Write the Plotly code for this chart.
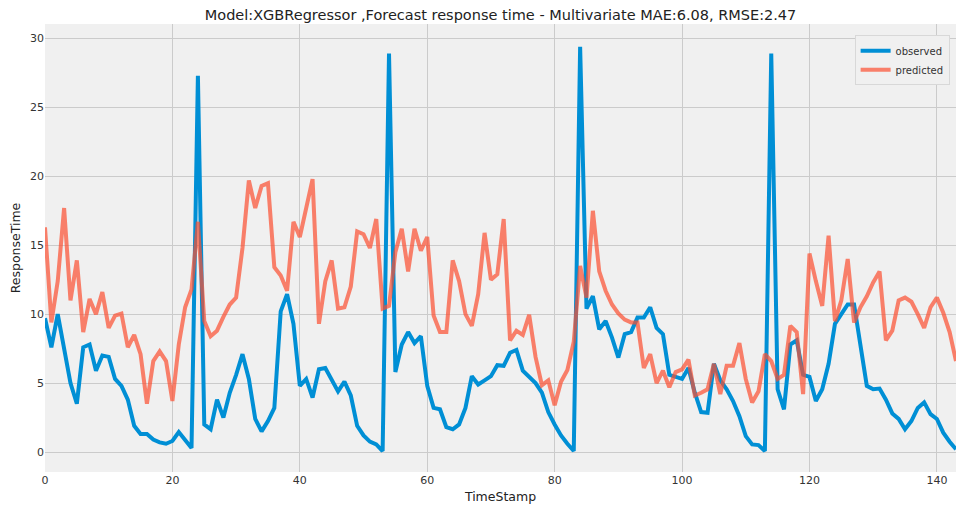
import plotly.graph_objects as go

timestamps = list(range(144))

observed = [
    9.7, 7.6, 10.0, 7.5, 5.0, 3.5, 7.6, 7.8, 5.9, 7.0,
    6.9, 5.3, 4.8, 3.8, 1.9, 1.3, 1.3, 0.9, 0.7, 0.6,
    0.8, 1.45, 0.9, 0.3, 27.3, 2.0, 1.65, 3.8, 2.5, 4.3,
    5.6, 7.1, 5.3, 2.4, 1.5, 2.25, 3.2, 10.2, 11.45, 9.3,
    4.8, 5.3, 3.95, 6.0, 6.1, 5.3, 4.4, 5.1, 4.1, 1.9,
    1.2, 0.75, 0.55, 0.07, 28.9, 5.8, 7.8, 8.7, 7.9, 8.4,
    4.8, 3.2, 3.1, 1.8, 1.65, 2.0, 3.2, 5.5, 4.9, 5.2,
    5.5, 6.3, 6.25, 7.2, 7.4, 5.9, 5.4, 5.0, 4.3, 2.9,
    2.0, 1.2, 0.6, 0.07, 29.4, 10.4, 11.3, 8.9, 9.5, 8.3,
    6.85, 8.55, 8.7, 9.75, 9.75, 10.5, 9.0, 8.55, 5.6, 5.45,
    5.3, 6.1, 4.3, 2.9, 2.85, 6.4, 5.2, 4.55, 3.7, 2.6,
    1.15, 0.55, 0.5, 0.07, 28.9, 4.55, 3.1, 7.8, 8.1, 5.6,
    5.45, 3.7, 4.55, 6.4, 9.3, 10.0, 10.7, 10.7, 7.7, 4.8,
    4.55, 4.6, 3.8, 2.8, 2.4, 1.65, 2.25, 3.2, 3.6, 2.75,
    2.4, 1.4, 0.75, 0.2,
]

predicted = [
    16.3, 9.4, 12.4, 17.7, 11.0, 13.9, 8.7, 11.1, 10.0, 11.6,
    9.0, 9.9, 10.05, 7.6, 8.5, 7.1, 3.5, 6.6, 7.3, 6.6,
    3.7, 7.8, 10.5, 11.8, 16.7, 9.5, 8.4, 8.8, 9.8, 10.7,
    11.2, 14.8, 19.7, 17.7, 19.3, 19.5, 13.4, 12.8, 11.7, 16.7,
    15.6, 17.7, 19.8, 9.3, 12.4, 13.9, 10.4, 10.5, 12.0, 16.0,
    15.8, 14.8, 16.9, 10.4, 10.6, 14.5, 16.2, 13.1, 16.2, 14.6,
    15.6, 9.9, 8.7, 8.7, 13.9, 12.4, 10.0, 9.15, 11.45, 15.9,
    12.5, 12.9, 16.9, 8.1, 8.8, 8.5, 9.95, 6.9, 4.85, 5.2,
    3.4, 5.1, 5.95, 8.0, 13.5, 11.2, 17.5, 13.1, 11.7, 10.7,
    10.05, 9.6, 9.4, 9.4, 6.1, 7.1, 5.0, 5.9, 4.7, 5.8,
    6.0, 6.7, 4.1, 4.3, 4.55, 6.4, 4.2, 6.25, 6.25, 7.9,
    5.3, 3.6, 4.4, 7.1, 6.6, 5.3, 5.6, 9.15, 8.7, 4.2,
    14.4, 12.4, 10.6, 15.7, 9.5, 11.0, 14.0, 9.4, 10.5, 11.3,
    12.3, 13.1, 8.1, 8.8, 11.0, 11.2, 10.9, 10.0, 9.0, 10.5,
    11.2, 10.1, 8.7, 6.6,
]

series_names = ["observed", "predicted"]
title_text = "Model:XGBRegressor ,Forecast response time - Multivariate MAE:6.08, RMSE:2.47"
x_ticks = [0, 20, 40, 60, 80, 100, 120, 140]
y_ticks = [0, 5, 10, 15, 20, 25, 30]

fig = go.Figure()
fig.add_trace(go.Scatter(
    x=timestamps, y=observed, mode="lines", name=series_names[0],
    line=dict(color="#008fd5", width=4),
))
fig.add_trace(go.Scatter(
    x=timestamps, y=predicted, mode="lines", name=series_names[1],
    line=dict(color="#fc4f30", width=4), opacity=0.7,
))

font_family = "DejaVu Sans"
fig.update_layout(
    width=958, height=510,
    margin=dict(l=45, r=2, t=24, b=38),
    paper_bgcolor="white",
    plot_bgcolor="#f0f0f0",
    font=dict(family=font_family, color="#333333", size=11),
    title=dict(text=title_text, x=0.5225, xanchor="center", y=0.971, yanchor="middle",
               font=dict(family=font_family, size=14.5, color="#222222")),
    showlegend=True,
    legend=dict(
        x=0.993, xanchor="right", y=0.975, yanchor="top",
        bgcolor="#f0f0f0", bordercolor="#d8d8d8", borderwidth=1,
        font=dict(family=font_family, size=10, color="#333333"),
        tracegroupgap=0, itemwidth=30,
    ),
    xaxis=dict(
        range=[0, 143], tickvals=x_ticks, ticktext=[str(v) for v in x_ticks],
        showgrid=True, gridcolor="#cbcbcb", gridwidth=1,
        zeroline=False, showline=False, ticks="",
        tickfont=dict(size=11, color="#333333"),
        title=dict(text="TimeStamp", font=dict(size=12.5, color="#222222"), standoff=6),
    ),
    yaxis=dict(
        range=[-1.45, 31.05], tickvals=y_ticks, ticktext=[str(v) for v in y_ticks],
        showgrid=True, gridcolor="#cbcbcb", gridwidth=1,
        zeroline=False, showline=False, ticks="",
        tickfont=dict(size=11, color="#333333"),
        title=dict(text="ResponseTime", font=dict(size=12.5, color="#222222"), standoff=6),
    ),
)

fig.write_html("out.html")
